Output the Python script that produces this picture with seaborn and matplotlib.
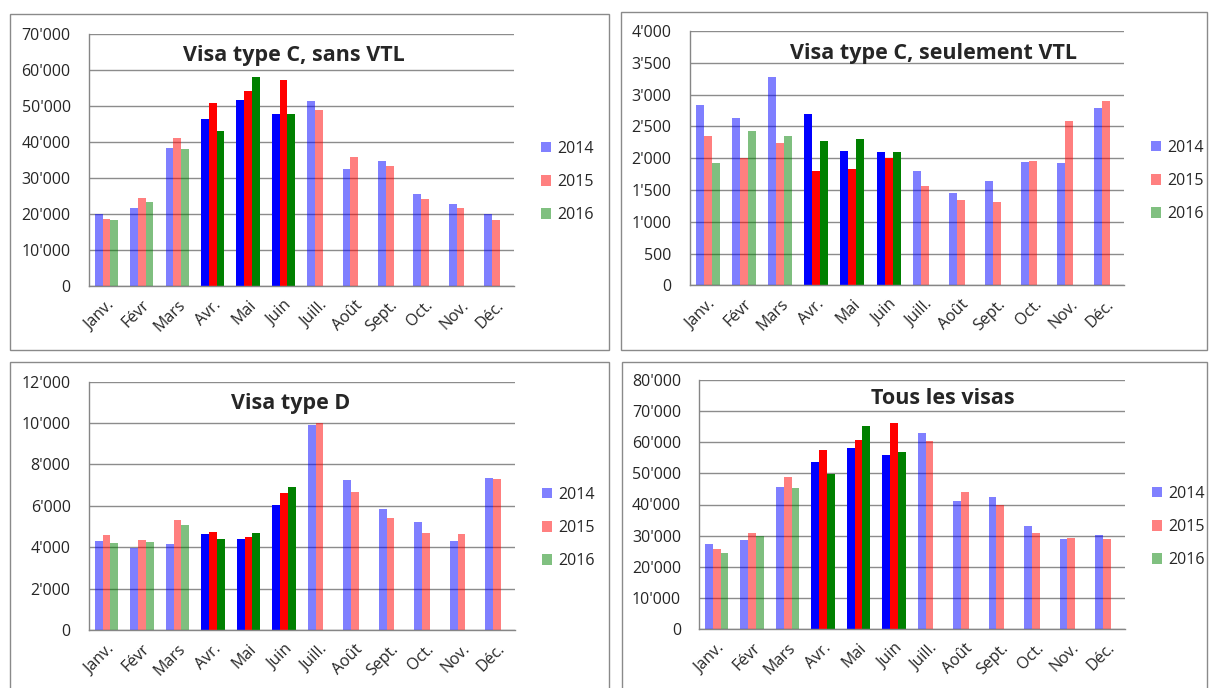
import pandas as pd
import numpy as np
import matplotlib.pyplot as plt
import seaborn as sns
from matplotlib.patches import Patch, Rectangle
from matplotlib.ticker import FuncFormatter, FixedLocator

# -------------------------------
# Data
# -------------------------------
months = ['Janv.', 'Févr', 'Mars', 'Avr.', 'Mai', 'Juin',
          'Juill.', 'Août', 'Sept.', 'Oct.', 'Nov.', 'Déc.']
years = ['2014', '2015', '2016']
highlight_months = ['Avr.', 'Mai', 'Juin']

# Visa type C, sans VTL
c_sans_2014 = [20100, 21700, 38300, 46400, 51700, 47800, 51400, 32600, 34800, 25600, 22800, 20100]
c_sans_2015 = [18800, 24600, 41100, 50800, 54200, 57300, 48800, 35900, 33300, 24200, 21700, 18400]
c_sans_2016 = [18300, 23300, 38000, 43100, 58100, 47800]

# Visa type C, seulement VTL
c_vtl_2014 = [2836, 2626, 3277, 2695, 2113, 2097, 1798, 1452, 1636, 1940, 1924, 2789]
c_vtl_2015 = [2349, 2008, 2239, 1798, 1830, 2003, 1567, 1342, 1305, 1955, 2585, 2899]
c_vtl_2016 = [1924, 2427, 2349, 2270, 2301, 2097]

# Visa type D
d_2014 = [4300, 3980, 4140, 4640, 4400, 6020, 9890, 7265, 5850, 5220, 4300, 7345]
d_2015 = [4590, 4330, 5300, 4740, 4490, 6620, 10000, 6650, 5430, 4690, 4640, 7300]
d_2016 = [4200, 4270, 5070, 4400, 4690, 6910]

# Tous les visas
all_2014 = [27200, 28500, 45600, 53700, 58200, 55900, 63100, 41200, 42400, 33100, 28900, 30200]
all_2015 = [25800, 30800, 48700, 57500, 60700, 66200, 60400, 43900, 39900, 30800, 29200, 28900]
all_2016 = [24400, 30000, 45400, 49900, 65200, 56900]

strong_colors = {'2014': '#0000FF', '2015': '#FF0000', '2016': '#008000'}
light_colors = {'2014': '#8080FF', '2015': '#FF8080', '2016': '#80C080'}
grey = '#868686'


def long_table(v14, v15, v16):
    rows = []
    for y, vals in zip(years, [v14, v15, v16]):
        for i, m in enumerate(months):
            val = vals[i] if i < len(vals) else np.nan
            rows.append({'month': m, 'year': y, 'value': val})
    return pd.DataFrame(rows)


def fmt_thousands(v, pos):
    return f"{int(round(v)):,}".replace(",", "'")


sns.set_style("white")
plt.rcParams['font.family'] = ['Open Sans', 'DejaVu Sans']

fig = plt.figure(figsize=(12.09, 6.88), dpi=100)
W, H = 1209, 688

# panel boxes (pixel coords: left, top, right, bottom)
boxes = [(10, 14, 609, 350), (621, 12, 1207, 350),
         (10, 362, 609, 700), (622, 362, 1207, 700)]
for l, t, r, b in boxes:
    fig.add_artist(Rectangle((l / W, 1 - b / H), (r - l) / W, (b - t) / H,
                             transform=fig.transFigure, fill=False,
                             edgecolor='#8a8a8a', linewidth=1.0))

panels = [
    dict(title='Visa type C, sans VTL', data=long_table(c_sans_2014, c_sans_2015, c_sans_2016),
         ymax=70000, step=10000, ax_px=(88.7, 34, 513.6, 286.3),
         title_px=(294, 55), legend_px=(541, 182)),
    dict(title='Visa type C, seulement VTL', data=long_table(c_vtl_2014, c_vtl_2015, c_vtl_2016),
         ymax=4000, step=500, ax_px=(689.6, 31, 1123.7, 285.3),
         title_px=(933, 53), legend_px=(1151, 181)),
    dict(title='Visa type D', data=long_table(d_2014, d_2015, d_2016),
         ymax=12000, step=2000, ax_px=(88.7, 381.7, 514.8, 630),
         title_px=(291, 403), legend_px=(542, 528)),
    dict(title='Tous les visas', data=long_table(all_2014, all_2015, all_2016),
         ymax=80000, step=10000, ax_px=(699, 380, 1124.5, 629),
         title_px=(943, 398), legend_px=(1152, 527)),
]

for p in panels:
    l, t, r, b = p['ax_px']
    ax = fig.add_axes([l / W, 1 - b / H, (r - l) / W, (b - t) / H])
    sns.barplot(data=p['data'], x='month', y='value', hue='year',
                order=months, hue_order=years, palette=strong_colors,
                width=0.66, gap=0, dodge=True, legend=False, ax=ax,
                linewidth=0, errorbar=None)

    # recolour: highlighted months in strong colours, others washed out
    for year, cont in zip(years, ax.containers):
        for bar in cont:
            idx = int(round(bar.get_x() + bar.get_width() / 2))
            bar.set_facecolor(strong_colors[year])
            bar.set_alpha(1.0 if months[idx] in highlight_months else 0.5)

    ax.set_xlim(-0.5, len(months) - 0.5)
    ax.set_ylim(0, p['ymax'])
    ax.set_yticks(np.arange(0, p['ymax'] + 1, p['step']))
    ax.yaxis.set_major_formatter(FuncFormatter(fmt_thousands))
    ax.set_axisbelow(True)
    ax.grid(axis='y', color='#8c8c8c', linewidth=1.0)
    ax.grid(axis='x', visible=False)

    for s in ['top', 'right']:
        ax.spines[s].set_visible(False)
    for s in ['left', 'bottom']:
        ax.spines[s].set_color(grey)
        ax.spines[s].set_linewidth(1.0)

    ax.xaxis.set_minor_locator(FixedLocator(np.arange(-0.5, len(months), 1.0)))
    ax.tick_params(axis='x', which='major', length=0, pad=8, labelsize=11.5)
    ax.tick_params(axis='x', which='minor', length=5, color=grey, direction='out')
    ax.tick_params(axis='y', which='major', length=5, color=grey, direction='out',
                   labelsize=11.5, pad=8)
    plt.setp(ax.get_xticklabels(), rotation=45, ha='right', rotation_mode='anchor')
    ax.set_xlabel('')
    ax.set_ylabel('')

    tx, ty = p['title_px']
    fig.text(tx / W, 1 - ty / H, p['title'], ha='center', va='center',
             fontsize=15.5, fontweight='bold')

    handles = [Patch(facecolor=light_colors[y], edgecolor='none', label=y) for y in years]
    lx, ly = p['legend_px']
    fig.legend(handles=handles, loc='center left', bbox_to_anchor=(lx / W, 1 - ly / H),
               bbox_transform=fig.transFigure, frameon=False, fontsize=11.5,
               handlelength=0.65, handleheight=0.65, handletextpad=0.35,
               labelspacing=1.08, borderpad=0, borderaxespad=0)

fig.savefig('out.png', dpi=100)
